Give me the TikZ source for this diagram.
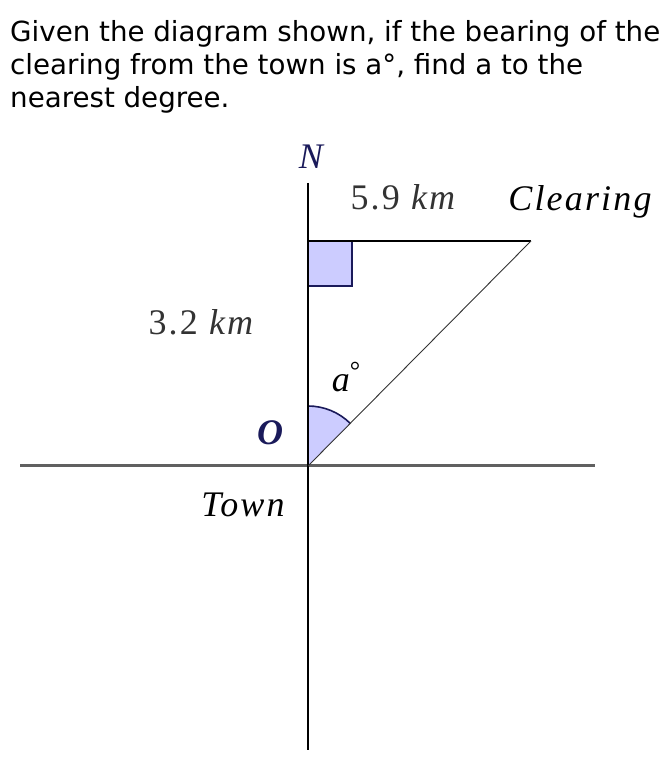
\documentclass[tikz,border=0pt]{standalone}
\usepackage{fontspec}
\setmainfont{DejaVu Sans}
\newfontfamily\lab[LetterSpace=6]{Liberation Serif}
\usetikzlibrary{calc}
\definecolor{navy}{HTML}{1A1A5A}
\definecolor{lav}{HTML}{CCCCFF}
\definecolor{axisgray}{HTML}{606060}
\definecolor{labgray}{HTML}{333333}
\begin{document}
\begin{tikzpicture}[x=1pt,y=1pt,
  lbl/.style={inner sep=0pt,font=\lab\fontsize{36}{40}\selectfont\itshape},
  title/.style={inner sep=0pt,anchor=north west,align=left,font=\fontsize{27.7}{33}\selectfont}]
\useasboundingbox (0,0) rectangle (671,776);
\node[title] (q) at (10,756) {Given the diagram shown, if the bearing of the\\clearing from the town is a°, find a to the\\nearest degree.};
\coordinate (O) at (308,310);
\coordinate (C) at (531,535);
\coordinate (F) at (308,535);
\coordinate (Ntop) at (308,593);
\coordinate (Nbot) at (308,26);
\coordinate (W) at (20,310);
\coordinate (E) at (595,310);
% right angle box
\filldraw[fill=lav,draw=navy,line width=1.6pt] (F) rectangle (352,490);
% angle arc
\filldraw[fill=lav,draw=none] (O) -- ++(90:60) arc[start angle=90,end angle=45.3,radius=60] -- cycle;
\draw[navy,line width=1.6pt] ($(O)+(0,60)$) arc[start angle=90,end angle=45.3,radius=60];
% axes
\draw[axisgray,line width=3pt] (W) -- (E);
\draw[black,line width=1.4pt] (Ntop) -- (Nbot);
\draw[black,line width=1.4pt] (F) -- (C);
\draw[black!80,line width=0.9pt] (O) -- (C);
% labels
\node[lbl,text=navy] (n) at (311,619) {N};
\node[inner sep=0pt,font=\lab\fontsize{36}{40}\selectfont,text=labgray] (d1) at (404,579) {5.9 \textit{km}};
\node[lbl] (cl) at (580,574) {Clearing};
\node[inner sep=0pt,font=\lab\fontsize{36}{40}\selectfont,text=labgray] (d2) at (202,454) {3.2 \textit{km}};
\node[lbl] (a) at (346,399) {a\raisebox{0.35em}{\fontsize{26}{30}\selectfont\upshape °}};
\node[lbl,text=navy,font=\lab\fontsize{36}{40}\selectfont\bfseries\itshape] (o) at (270,343) {O};
\node[lbl] (t) at (243,271) {Town};
\end{tikzpicture}
\end{document}
